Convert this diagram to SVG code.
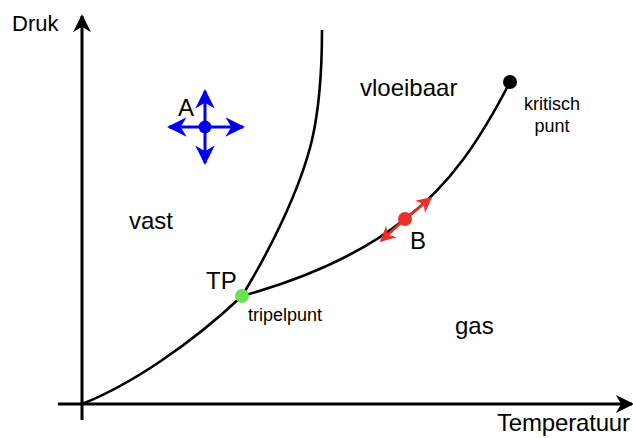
<svg xmlns="http://www.w3.org/2000/svg" width="633" height="438" viewBox="0 0 633 438">
<style>
.ax{stroke:#000;stroke-width:3;fill:none}
.cv{stroke:#000;stroke-width:2.6;fill:none}
.t{font-family:"Liberation Sans",Arial,sans-serif;fill:#000}
.big{font-size:24px}
.sm{font-size:18px}
.blue{stroke:#0000ee;stroke-width:3;fill:none}
.red{stroke:#e8302a;stroke-width:2.6;fill:none}
</style>
<defs>
<marker id="ah" viewBox="0 0 10 10" refX="9" refY="5" markerWidth="6" markerHeight="6" orient="auto" markerUnits="strokeWidth"><path d="M0,0 L10,5 L0,10 L3,5 z" fill="#000"/></marker>
<marker id="bh" viewBox="0 0 10 10" refX="9" refY="5" markerWidth="6.5" markerHeight="6.5" orient="auto" markerUnits="strokeWidth"><path d="M0,0 L10,5 L0,10 L3,5 z" fill="#0000ee"/></marker>
<marker id="rh" viewBox="0 0 10 10" refX="9" refY="5" markerWidth="6" markerHeight="6" orient="auto" markerUnits="strokeWidth"><path d="M0,0 L10,5 L0,10 L3,5 z" fill="#e8302a"/></marker>
</defs>
<g id="connectors">
<line class="ax" x1="82" y1="420" x2="82" y2="16" marker-end="url(#ah)"/>
<line class="ax" x1="58" y1="404" x2="632" y2="404" marker-end="url(#ah)"/>
<path class="cv" d="M82,404 C130,385 190,345 242,296"/>
<path class="cv" d="M242,296 C270,250 300,190 312,140 C320,105 322,60 322,30"/>
<path class="cv" d="M242,296 C300,280 360,255 405,219 C450,185 480,140 510,82"/>
<line class="blue" x1="205" y1="127" x2="205" y2="91" marker-end="url(#bh)"/>
<line class="blue" x1="205" y1="127" x2="205" y2="163" marker-end="url(#bh)"/>
<line class="blue" x1="205" y1="127" x2="169" y2="127" marker-end="url(#bh)"/>
<line class="blue" x1="205" y1="127" x2="243" y2="127" marker-end="url(#bh)"/>
<line class="red" x1="405" y1="219" x2="431" y2="198" marker-end="url(#rh)"/>
<line class="red" x1="405" y1="219" x2="381" y2="241" marker-end="url(#rh)"/>
</g>
<g id="axis-labels">
<text class="t" x="12" y="31" font-size="22">Druk</text>
<text class="t" x="497" y="431" font-size="24" textLength="133">Temperatuur</text>
</g>
<g id="A"><circle cx="205" cy="127" r="6.5" fill="#0000ee"/><text class="t big" x="178" y="116">A</text></g>
<g id="TP"><circle cx="242" cy="296" r="7" fill="#6ee04f"/><text class="t big" x="206" y="289">TP</text><text class="t sm" x="248" y="321">tripelpunt</text></g>
<g id="B"><circle cx="405" cy="219" r="7" fill="#e8302a"/><text class="t big" x="410" y="249">B</text></g>
<g id="kritisch"><circle cx="510" cy="82" r="7" fill="#000"/><text class="t sm" x="552" y="110" text-anchor="middle">kritisch</text><text class="t sm" x="552" y="132" text-anchor="middle">punt</text></g>
<g id="regions">
<text class="t big" x="360" y="96">vloeibaar</text>
<text class="t big" x="129" y="229">vast</text>
<text class="t big" x="455" y="334">gas</text>
</g>
</svg>
